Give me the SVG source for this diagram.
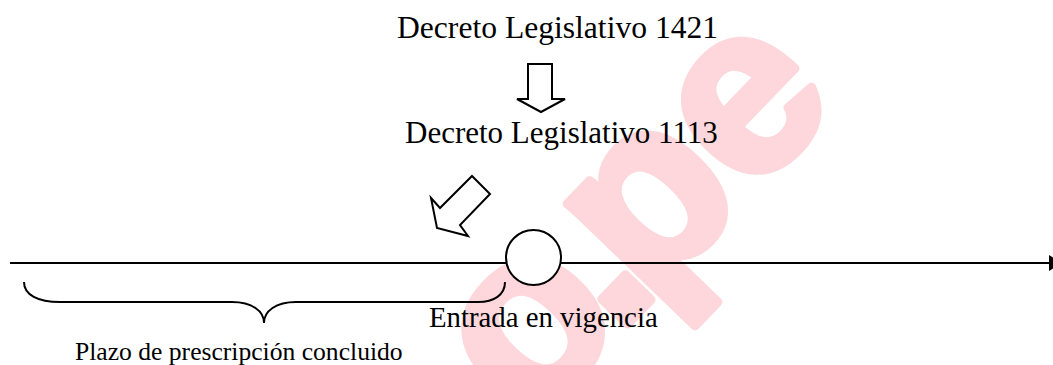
<svg xmlns="http://www.w3.org/2000/svg" width="1053" height="365" viewBox="0 0 1053 365">
<style>
.t{font-family:"Liberation Serif","Times New Roman",serif;fill:#000}
.s{fill:none;stroke:#000;stroke-width:2}
.b{fill:#fff;stroke:#000;stroke-width:2;stroke-linejoin:miter}
.wm{font-family:"Liberation Sans",Arial,sans-serif;font-weight:bold;fill:#fdd7db;stroke:#fdd7db;stroke-width:9;stroke-linejoin:round}
</style>
<rect width="1053" height="365" fill="#fff"/>
<g id="watermark">
<text class="wm" font-size="240" x="0 127 172 318" y="0" transform="translate(528,427) rotate(-46)">o.pe</text>
</g>
<g id="connectors">
<line class="s" x1="10" y1="263" x2="1050" y2="263" stroke-width="2.3"/>
<polygon points="1049,255 1049,271 1062,263" fill="#000"/>
<polygon id="arrow-down" class="b" points="528,64 552,64 552,99 565,99 541,112 517,99 528,99"/>
<polygon id="arrow-diag" class="b" points="472,176 490,194 460,225 468,236 437,228 431,198 440,208"/>
<path id="brace" class="s" stroke-width="1.6" d="M24,282 C24,295 38,302 60,302 L232,302 C252,302 264,311 264,323 C264,311 276,302 296,302 L478,302 C494,302 505,295 505,282"/>
</g>
<g id="node-dl1421"><text class="t" x="397" y="38" font-size="31.6">Decreto Legislativo 1421</text></g>
<g id="node-dl1113"><text class="t" x="405" y="143" font-size="31">Decreto Legislativo 1113</text></g>
<g id="node-entrada">
<circle class="b" cx="533.5" cy="257.5" r="27.5"/>
<text class="t" x="429" y="327" font-size="28.8">Entrada en vigencia</text>
</g>
<g id="node-plazo"><text class="t" x="75" y="360" font-size="25.6">Plazo de prescripción concluido</text></g>
</svg>
